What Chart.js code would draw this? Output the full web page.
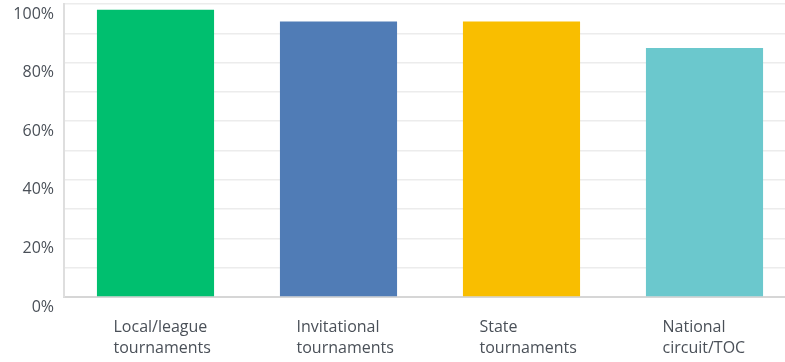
<!DOCTYPE html>
<html>
<head>
<meta charset="utf-8">
<script src="https://cdn.jsdelivr.net/npm/chart.js@4/dist/chart.umd.min.js"></script>
<style>
  html, body { margin: 0; padding: 0; background: #fff; overflow: hidden; }
  #wrap { width: 800px; height: 362px; }
</style>
</head>
<body>
<div id="wrap"><canvas id="chart" width="800" height="362"></canvas></div>
<script>
const categories = [
    ["Local/league", "tournaments"],
    ["Invitational", "tournaments"],
    ["State", "tournaments"],
    ["National", "circuit/TOC"],
];
const percentages = [98, 94, 94, 85];
const barColors = ["#00bf6f", "#507cb6", "#f9be00", "#6bc8cd"];

const ctx = document.getElementById("chart").getContext("2d");
new Chart(ctx, {
    type: "bar",
    data: {
        labels: categories,
        datasets: [
            {
                data: percentages,
                backgroundColor: barColors,
                borderWidth: 0,
                barPercentage: 0.64,
                categoryPercentage: 1,
            },
        ],
    },
    options: {
        responsive: false,
        animation: false,
        layout: { padding: { top: 4, right: 4, left: 0, bottom: 0 } },
        plugins: {
            legend: { display: false },
            tooltip: { enabled: false },
        },
        scales: {
            x: {
                grid: { display: false, drawTicks: false },
                border: { color: "#d6d6d6", width: 2 },
                ticks: {
                    align: "start",
                    labelOffset: -42,
                    padding: 20,
                    color: "#4a5058",
                    font: { family: "Open Sans", size: 16, lineHeight: 1.3 },
                    maxRotation: 0,
                    autoSkip: false,
                },
                afterFit: (scale) => {
                    scale.height = 65;
                    scale.paddingLeft = 0;
                    scale.paddingRight = 0;
                },
            },
            y: {
                min: 0,
                max: 100,
                grid: { color: "#ececec", lineWidth: 1.5, drawTicks: false },
                border: { color: "#dedede", width: 2 },
                ticks: {
                    stepSize: 10,
                    labelOffset: 10,
                    padding: 10,
                    color: "#4a5058",
                    font: { family: "Open Sans", size: 16 },
                    callback: (v) => (v % 20 === 0 ? v + "%" : ""),
                },
                afterFit: (scale) => {
                    scale.width = 64;
                    scale.paddingTop = 0;
                    scale.paddingBottom = 0;
                },
            },
        },
    },
});
</script>
</body>
</html>
